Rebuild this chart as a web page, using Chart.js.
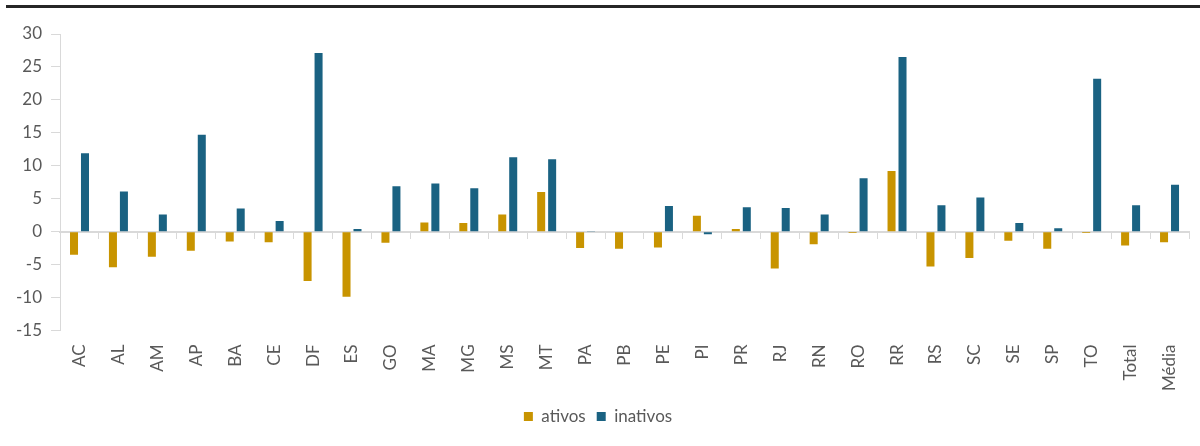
<!DOCTYPE html>
<html>
<head>
<meta charset="utf-8">
<title>ativos / inativos por UF</title>
<script src="https://cdn.jsdelivr.net/npm/chart.js"></script>
<style>
  html, body { margin: 0; padding: 0; background: #fff; }
  #wrap { position: relative; width: 1200px; height: 446px; }
  #rule { position: absolute; top: 5px; left: 6px; right: 0; height: 3px; background: #262626; }
</style>
</head>
<body>
<div id="wrap">
  <div id="rule"></div>
  <canvas id="chart" width="1200" height="446"></canvas>
</div>
<script>
const categories = ['AC', 'AL', 'AM', 'AP', 'BA', 'CE', 'DF', 'ES', 'GO', 'MA', 'MG', 'MS', 'MT', 'PA',
  'PB', 'PE', 'PI', 'PR', 'RJ', 'RN', 'RO', 'RR', 'RS', 'SC', 'SE', 'SP', 'TO', 'Total', 'Média'];
const ativos = [-3.5, -5.4, -3.8, -2.9, -1.5, -1.6, -7.5, -9.9, -1.7, 1.4, 1.3, 2.6, 6.0, -2.5,
  -2.6, -2.4, 2.4, 0.4, -5.6, -1.9, -0.2, 9.2, -5.3, -4.0, -1.4, -2.6, -0.2, -2.1, -1.6];
const inativos = [11.9, 6.1, 2.6, 14.7, 3.5, 1.6, 27.1, 0.4, 6.9, 7.3, 6.6, 11.3, 11.0, 0.1,
  0.0, 3.9, -0.4, 3.7, 3.6, 2.6, 8.1, 26.5, 4.0, 5.2, 1.3, 0.5, 23.2, 4.0, 7.1];
const yTicks = [-15, -10, -5, 0, 5, 10, 15, 20, 25, 30];

const gold = '#C89400';
const blue = '#1A6282';
const axisGrey = '#D9D9D9';
const textGrey = '#595959';
const font = { family: 'Lato', size: 17 };

new Chart(document.getElementById('chart'), {
  type: 'bar',
  data: {
    labels: categories,
    datasets: [
      { label: 'ativos', data: ativos, backgroundColor: gold, categoryPercentage: 0.564, barPercentage: 0.73 },
      { label: 'inativos', data: inativos, backgroundColor: blue, categoryPercentage: 0.564, barPercentage: 0.73 }
    ]
  },
  options: {
    responsive: false,
    animation: false,
    layout: { padding: { top: 34, left: 7, right: 11, bottom: 11 } },
    plugins: {
      tooltip: { enabled: false },
      legend: {
        position: 'bottom',
        labels: { boxWidth: 9, boxHeight: 9, padding: 11, color: textGrey, font: font }
      }
    },
    scales: {
      x: {
        grid: { display: false },
        border: { display: false },
        ticks: { color: textGrey, font: font, minRotation: 90, maxRotation: 90, padding: 6, autoSkip: false }
      },
      x2: {
        type: 'category',
        labels: categories,
        offset: true,
        position: { y: 0 },
        grid: { offset: true, drawOnChartArea: false, tickLength: 6, color: axisGrey },
        border: { color: axisGrey, width: 2 },
        ticks: { display: false }
      },
      y: {
        min: -15,
        max: 30,
        afterBuildTicks: (axis) => { axis.ticks = yTicks.map(v => ({ value: v })); },
        grid: { drawOnChartArea: false, tickLength: 9, color: axisGrey },
        border: { color: axisGrey, width: 1 },
        ticks: { color: textGrey, font: font, padding: 9 }
      }
    }
  }
});
</script>
</body>
</html>
